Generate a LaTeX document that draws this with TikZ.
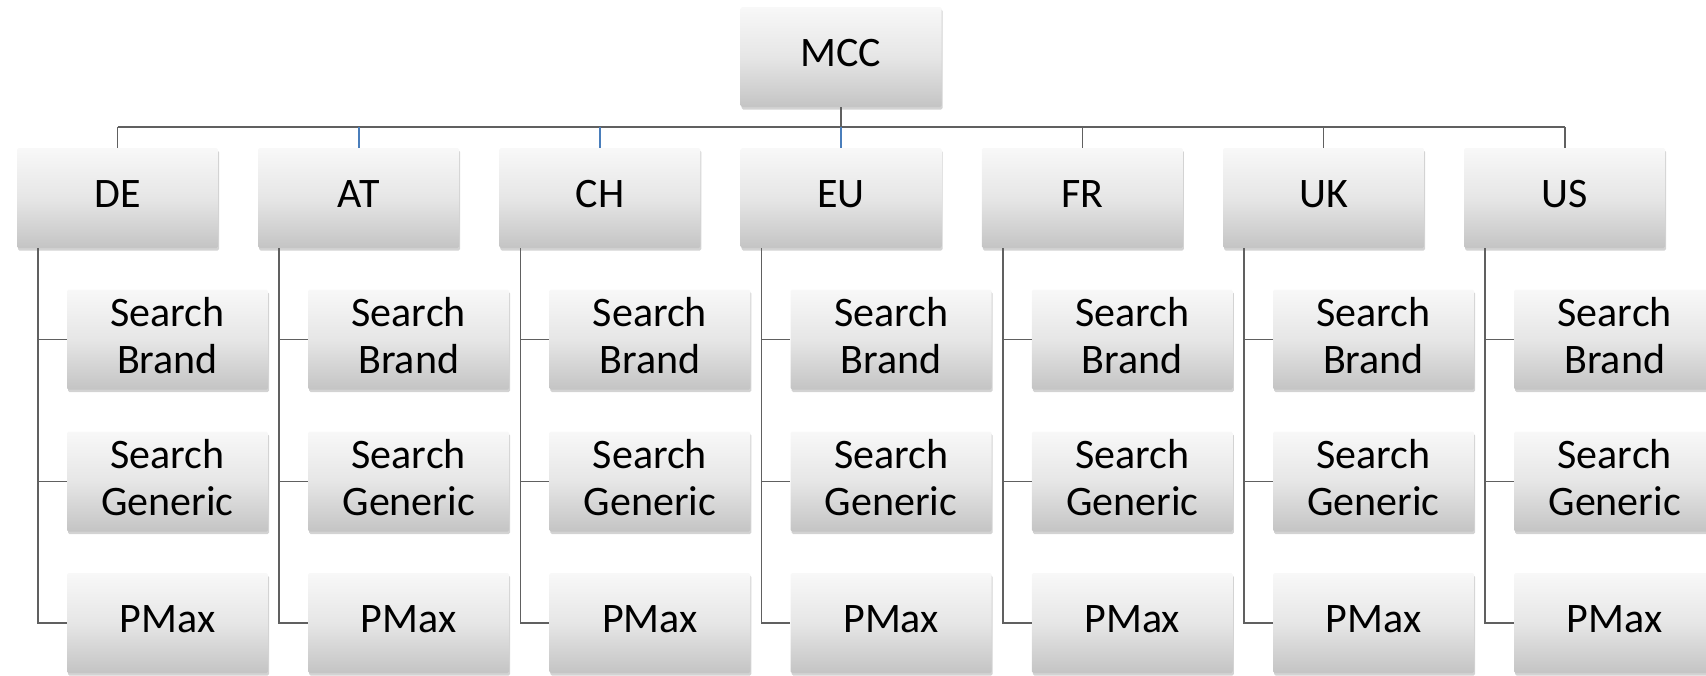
\documentclass[tikz,border=0pt]{standalone}
\usepackage{fontspec}
\setmainfont{Carlito}
\usetikzlibrary{shadows}
\definecolor{topc}{HTML}{F8F8F8}
\definecolor{midc}{HTML}{E6E6E6}
\definecolor{botc}{HTML}{C4C4C4}
\definecolor{linec}{HTML}{606060}
\definecolor{bluec}{HTML}{4A7EBB}
\tikzset{
  box/.style={rectangle, minimum width=201pt, minimum height=100pt, inner sep=0pt,
    top color=topc, bottom color=botc, middle color=midc, draw=none, rounded corners=1.5pt,
    drop shadow={shadow xshift=1pt, shadow yshift=-2.5pt, opacity=0.35, fill=gray},
    label={[boxtext]center:#1}},
  boxtext/.style={align=center, inner sep=0pt, yshift=4pt, font=\fontsize{42}{47.6}\selectfont},
  conn/.style={draw=linec, line width=1.6pt},
  bconn/.style={draw=bluec, line width=1.6pt}
}
\begin{document}
\begin{tikzpicture}[x=1pt,y=-1pt]
\useasboundingbox (0,0) rectangle (1706,675);
\node[box={MCC}] (mcc) at (841,57) {};
\coordinate (bus) at (841,127);
\foreach \n/\lab [count=\i from 0] in {de/DE,at/AT,ch/CH,eu/EU,fr/FR,uk/UK,us/US}{
  \pgfmathsetmacro{\cx}{117.5+\i*241.2}
  \node[box={\lab}] (\n) at (\cx,198) {};
  \node[box={Search\\Brand}] (\n-sb) at (\cx+50,339.5) {};
  \node[box={Search\\Generic}] (\n-sg) at (\cx+50,481.5) {};
  \node[box={PMax}] (\n-pm) at (\cx+50,623) {};
  \coordinate (\n-top) at (\cx,127);
  \coordinate (\n-trunk) at (\cx-79.5,248);
}
\draw[conn] (mcc.south) -- (bus);
\draw[conn] (de-top) -- (us-top);
\foreach \n in {de,fr,uk,us}{\draw[conn] (\n-top) -- (\n.north);}
\foreach \n in {at,ch,eu}{\draw[bconn] (\n-top) -- (\n.north);}
\foreach \n in {de,at,ch,eu,fr,uk,us}{
  \draw[conn] (\n-trunk) |- (\n-pm.west);
  \draw[conn] (\n-trunk |- \n-sb.west) -- (\n-sb.west);
  \draw[conn] (\n-trunk |- \n-sg.west) -- (\n-sg.west);
}
\end{tikzpicture}
\end{document}
